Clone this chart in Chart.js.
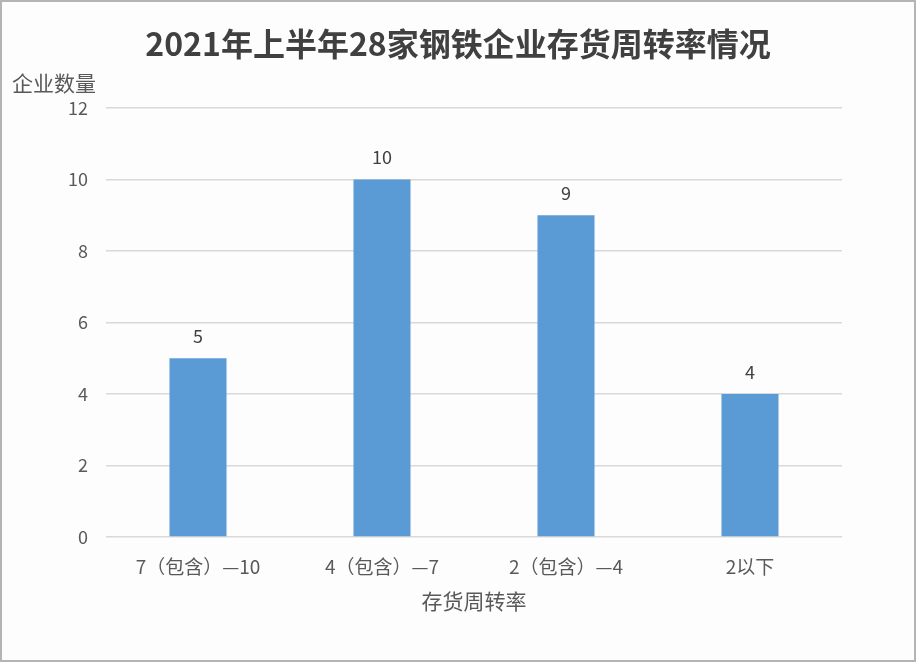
<!DOCTYPE html>
<html>
<head>
<meta charset="utf-8">
<script src="https://cdn.jsdelivr.net/npm/chart.js@4"></script>
<style>
  html, body { margin: 0; padding: 0; background: #fff; }
  #wrap { position: relative; width: 916px; height: 662px; box-sizing: border-box; border: 2px solid #b4b4b4; background: #fdfdfd; }
  #chart { position: absolute; left: -2px; top: -2px; }
</style>
</head>
<body>
<div id="wrap"><canvas id="chart" width="916" height="662"></canvas></div>
<script>
const title = '2021年上半年28家钢铁企业存货周转率情况';
const yTitle = '企业数量';
const xTitle = '存货周转率';
const categories = ['7（包含）—10', '4（包含）—7', '2（包含）—4', '2以下'];
const counts = [5, 10, 9, 4];
const yTicks = [0, 2, 4, 6, 8, 10, 12];

const fontFamily = "'Noto Sans CJK SC', 'Noto Sans', sans-serif";

// title centred on the whole picture, bar value labels, horizontal y axis title
const labelPlugin = {
    id: 'labels',
    afterDraw(chart) {
        const ctx = chart.ctx;
        const meta = chart.getDatasetMeta(0);
        ctx.save();
        ctx.textBaseline = 'middle';
        ctx.fillStyle = '#404040';
        ctx.font = 'bold 32px ' + fontFamily;
        ctx.textAlign = 'center';
        ctx.fillText(title, chart.width / 2, 44);

        ctx.font = '18px ' + fontFamily;
        meta.data.forEach(function(bar, i) {
            ctx.fillText(counts[i], bar.x, bar.y - 22);
        });
        ctx.fillStyle = '#595959';
        ctx.font = '21px ' + fontFamily;
        ctx.textAlign = 'left';
        ctx.fillText(yTitle, 12, chart.chartArea.top - 25);
        ctx.restore();
    }
};

const ctx = document.getElementById('chart').getContext('2d');
new Chart(ctx, {
    type: 'bar',
    data: {
        labels: categories,
        datasets: [{
            data: counts,
            backgroundColor: '#5b9bd5',
            barPercentage: 0.31,
            categoryPercentage: 1
        }]
    },
    options: {
        responsive: false,
        animation: false,
        layout: { padding: { left: 0, right: 74, top: 108, bottom: 48 } },
        plugins: {
            legend: { display: false },
            tooltip: { enabled: false },
            title: { display: false }
        },
        scales: {
            x: {
                grid: { display: false },
                border: { display: false },
                ticks: {
                    color: '#595959',
                    font: { family: fontFamily, size: 19 },
                    padding: 10
                },
                title: {
                    display: true,
                    text: xTitle,
                    color: '#595959',
                    font: { family: fontFamily, size: 21 },
                    padding: { top: 8, bottom: 0 }
                },
                afterFit: function(scale) { scale.height = 77; }
            },
            y: {
                min: 0,
                max: 12,
                afterBuildTicks: function(scale) {
                    scale.ticks = yTicks.map(function(v) { return { value: v }; });
                },
                grid: { color: '#d9d9d9', drawTicks: false, lineWidth: 1.5 },
                border: { display: false },
                ticks: {
                    color: '#595959',
                    font: { family: fontFamily, size: 18 },
                    padding: 18
                },
                afterFit: function(scale) { scale.width = 106; }
            }
        }
    },
    plugins: [labelPlugin]
});
</script>
</body>
</html>
